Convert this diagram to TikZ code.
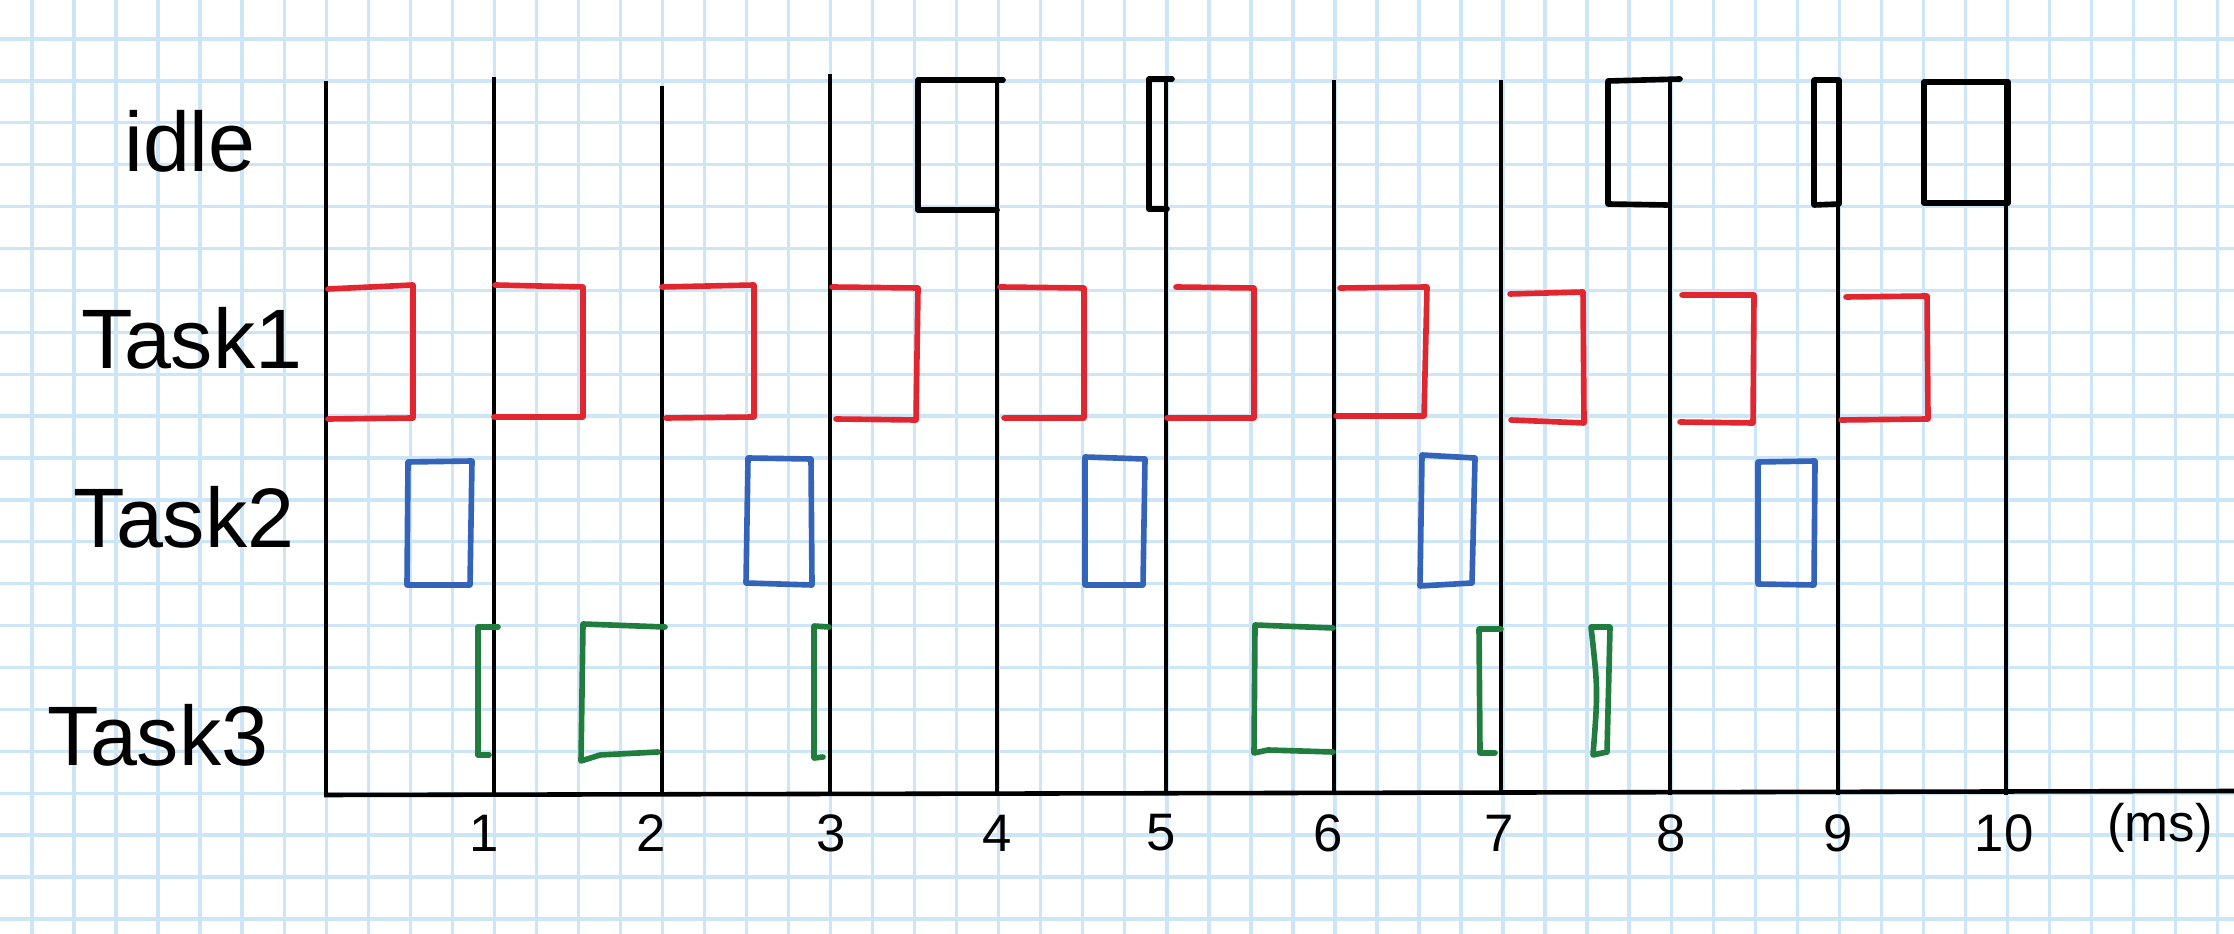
\documentclass[tikz,border=0pt]{standalone}
\usepackage{fontspec}
\setmainfont{Liberation Sans}
\definecolor{gridblue}{RGB}{204,230,247}
\definecolor{taskred}{RGB}{226,38,48}
\definecolor{taskblue}{RGB}{52,100,186}
\definecolor{taskgreen}{RGB}{32,125,62}
\begin{document}
\begin{tikzpicture}[x=0.01cm,y=-0.01cm,
  gridline/.style={gridblue, line width=0.95pt},
  timeline/.style={black, line width=1.05pt},
  pen/.style={line width=1.6pt, line cap=round, line join=round},
  idlebox/.style={pen, black},
  redbox/.style={pen, taskred},
  bluebox/.style={pen, taskblue},
  greenbox/.style={pen, taskgreen},
  rowlabel/.style={font=\fontsize{24}{28}\selectfont, inner sep=0pt},
  ticklabel/.style={font=\fontsize{15}{18}\selectfont, inner sep=0pt}]
\fill[white] (0,0) rectangle (2234,934);
\useasboundingbox (0,0) rectangle (2234,934);
% graph paper
\foreach \k in {0,...,52} \draw[gridline] ({32+42.03*\k},0) -- ({32+42.03*\k},934);
\foreach \k in {0,...,21} \draw[gridline] (0,{39+41.9*\k}) -- (2234,{39+41.9*\k});
% time lines
\foreach \i/\x/\y in {0/326/81, 1/494/77, 2/662/86, 3/830/74, 4/997/80, 5/1166/78, 6/1334/80, 7/1501/80, 8/1670/80, 9/1838/80, 10/2006/80} {
  \coordinate (top\i) at (\x,\y);
  \coordinate (bot\i) at (\x,795);
  \draw[timeline] (top\i) -- (bot\i);
}
% axis
\coordinate (axL) at (324,795);
\coordinate (axR) at (2234,791);
\draw[black, line width=1.3pt] (axL) -- (axR);
% idle
\draw[idlebox] (1003,80) -- (918,80) -- (918,210) -- (997,210);
\draw[idlebox] (1172,79) -- (1149,79) -- (1149,209) -- (1167,209);
\draw[idlebox] (1680,79) -- (1608,81) -- (1608,204) -- (1667,205);
\draw[idlebox] (1839,80) -- (1814,80) -- (1814,205) -- (1839,204) -- cycle;
\draw[idlebox] (2008,82) -- (1924,82) -- (1924,203) -- (2008,203) -- cycle;
% Task1
\draw[redbox] (328,289) -- (413,285) -- (413,418) -- (328,419);
\draw[redbox] (495,285) -- (583,287) -- (583,417) -- (494,417);
\draw[redbox] (662,287) -- (754,285) -- (754,417) -- (666,418);
\draw[redbox] (832,287) -- (918,288) -- (916,420) -- (836,419);
\draw[redbox] (1000,287) -- (1084,288) -- (1084,418) -- (1004,418);
\draw[redbox] (1176,287) -- (1254,288) -- (1254,418) -- (1167,418);
\draw[redbox] (1340,288) -- (1427,287) -- (1424,416) -- (1336,416);
\draw[redbox] (1510,294) -- (1583,292) -- (1584,423) -- (1511,420);
\draw[redbox] (1682,295) -- (1754,295) -- (1753,423) -- (1680,422);
\draw[redbox] (1846,297) -- (1927,296) -- (1928,419) -- (1841,420);
% Task2
\draw[bluebox] (408,462) -- (472,461) -- (470,585) -- (407,585) -- cycle;
\draw[bluebox] (748,458) -- (811,459) -- (812,585) -- (746,583) -- cycle;
\draw[bluebox] (1085,457) -- (1145,459) -- (1143,585) -- (1085,585) -- cycle;
\draw[bluebox] (1422,455) -- (1475,458) -- (1472,583) -- (1420,586) -- cycle;
\draw[bluebox] (1758,462) -- (1815,461) -- (1814,585) -- (1758,584) -- cycle;
% Task3
\draw[greenbox] (498,627) -- (478,627) -- (478,755) -- (489,755);
\draw[greenbox] (665,627) -- (583,624) -- (581,761) -- (600,755) -- (658,752);
\draw[greenbox] (829,627) -- (814,626) -- (814,758) -- (823,757);
\draw[greenbox] (1333,628) -- (1255,625) -- (1254,753) -- (1268,750) -- (1333,752);
\draw[greenbox] (1501,629) -- (1479,629) -- (1480,753) -- (1495,753);
\draw[greenbox] (1591,627) -- (1610,627) -- (1607,752) -- (1593,755) .. controls (1598,690) .. (1591,627) -- cycle;
% row labels
\node[rowlabel] (lidle) at (190,141) {idle};
\node[rowlabel] (ltaskone) at (192,338) {Task1};
\node[rowlabel] (ltasktwo) at (184,517) {Task2};
\node[rowlabel] (ltaskthree) at (158,735) {Task3};
% tick labels
\foreach \n/\x in {1/484, 2/651, 3/831, 4/997, 5/1161, 6/1328, 7/1499, 8/1671, 9/1838, 10/2004}
  \node[ticklabel] (tick\n) at (\x,833) {\n};
\node[ticklabel] (msunit) at (2160,828) {(ms)};
\end{tikzpicture}
\end{document}
